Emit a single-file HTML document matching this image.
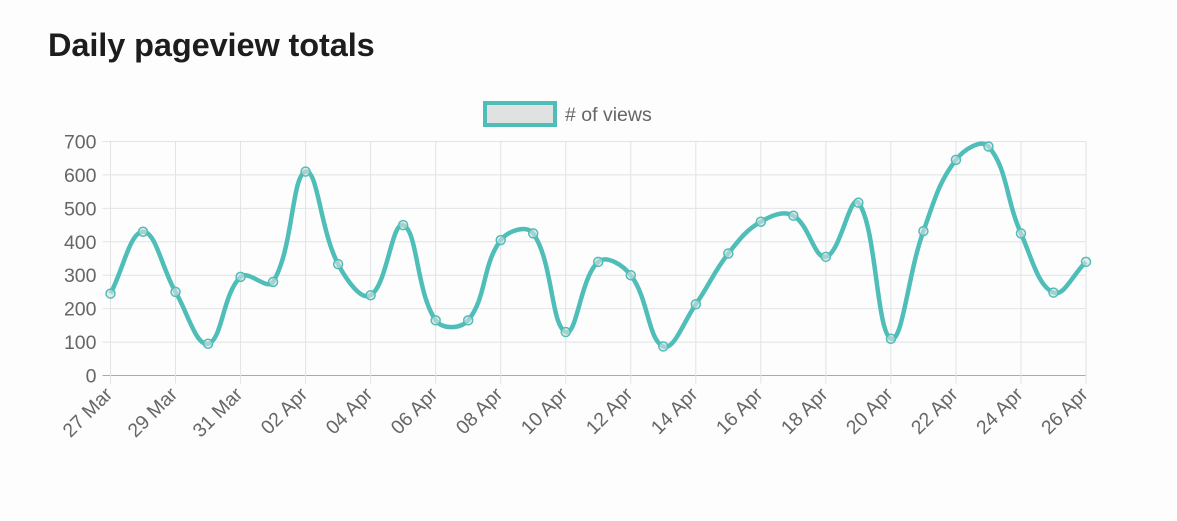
<!DOCTYPE html>
<html><head><meta charset="utf-8"><style>
body{margin:0;width:1177px;height:521px;background:#fdfdfd;overflow:hidden;font-family:"Liberation Sans",sans-serif}
h1{position:absolute;left:48px;top:27px;margin:0;font-size:32.5px;font-weight:bold;color:#1d1d1d;letter-spacing:-0.1px}
svg{position:absolute;left:0;top:0}
</style></head><body>
<h1>Daily pageview totals</h1>
<svg id="c" width="1177" height="521"></svg>
<script>
const labels=["27 Mar","28 Mar","29 Mar","30 Mar","31 Mar","01 Apr","02 Apr","03 Apr","04 Apr","05 Apr","06 Apr","07 Apr","08 Apr","09 Apr","10 Apr","11 Apr","12 Apr","13 Apr","14 Apr","15 Apr","16 Apr","17 Apr","18 Apr","19 Apr","20 Apr","21 Apr","22 Apr","23 Apr","24 Apr","25 Apr","26 Apr"];
const views=[245,430,250,95,295,280,610,333,240,450,165,165,405,425,130,340,300,87,213,365,460,478,355,517,110,432,645,685,425,248,340];
const yTicks=[0,100,200,300,400,500,600,700];
const svg=document.getElementById('c');const NS='http://www.w3.org/2000/svg';
const X0=110.5,X1=1086,Y0=375.5,Y1=141.5;
const xs=i=>X0+(X1-X0)*i/(labels.length-1);
const ys=v=>Y0-(Y0-Y1)*v/700;
function mk(t,a,p){const e=document.createElementNS(NS,t);for(const k in a)e.setAttribute(k,a[k]);(p||svg).appendChild(e);return e;}
yTicks.forEach(t=>{
 const l=mk('line',{x1:X0-8,x2:X1,y1:ys(t),y2:ys(t),stroke:t===0?'#aaa':'#e0e4e4','stroke-width':1});
 
 
 const tx=mk('text',{x:X0-14,y:ys(t)+7,'text-anchor':'end','font-size':19.5,fill:'#666'});tx.textContent=t;
 
 
});
labels.forEach((lb,i)=>{
 if(i%2)return;
 const x=xs(i);
 const l=mk('line',{x1:x,x2:x,y1:Y1,y2:Y0+8,stroke:'#e0e4e4','stroke-width':1});
 
 
 const tx=mk('text',{x:x+3,y:Y0+20,'text-anchor':'end','font-size':19.5,fill:'#666',transform:`rotate(-45 ${x+3} ${Y0+20})`});tx.textContent=lb;
 
 
});
mk('line',{x1:X1,x2:X1,y1:Y1,y2:Y0,stroke:'#e0e4e4'});
const P=views.map((v,i)=>({x:xs(i),y:ys(v)}));const t=0.4;
const cps=P.map((p,i)=>{const a=P[i-1]||p,c=P[i+1]||p;
 const d01=Math.hypot(p.x-a.x,p.y-a.y),d12=Math.hypot(c.x-p.x,c.y-p.y);
 let s01=d01/(d01+d12||1),s12=d12/(d01+d12||1);s01=t*s01;s12=t*s12;
 return{px:p.x-s01*(c.x-a.x),py:p.y-s01*(c.y-a.y),nx:p.x+s12*(c.x-a.x),ny:p.y+s12*(c.y-a.y)};});
let d=`M${P[0].x},${P[0].y}`;
for(let i=1;i<P.length;i++)d+=` C${cps[i-1].nx},${cps[i-1].ny} ${cps[i].px},${cps[i].py} ${P[i].x},${P[i].y}`;
const line=mk('path',{d,fill:'none',stroke:'#4fbdb8','stroke-width':4.5});


P.forEach(p=>{const c=mk('circle',{cx:p.x,cy:p.y,r:4.5,fill:'rgba(220,225,225,0.6)',stroke:'#4fbdb8','stroke-width':1.5});
 
 });
const lg=mk('rect',{x:485,y:103,width:70,height:22,fill:'#e0e2e2',stroke:'#4fbdb8','stroke-width':4});


const lt=mk('text',{x:565,y:121,'font-size':19.5,fill:'#666'});lt.textContent='# of views';


</script>
</body></html>
